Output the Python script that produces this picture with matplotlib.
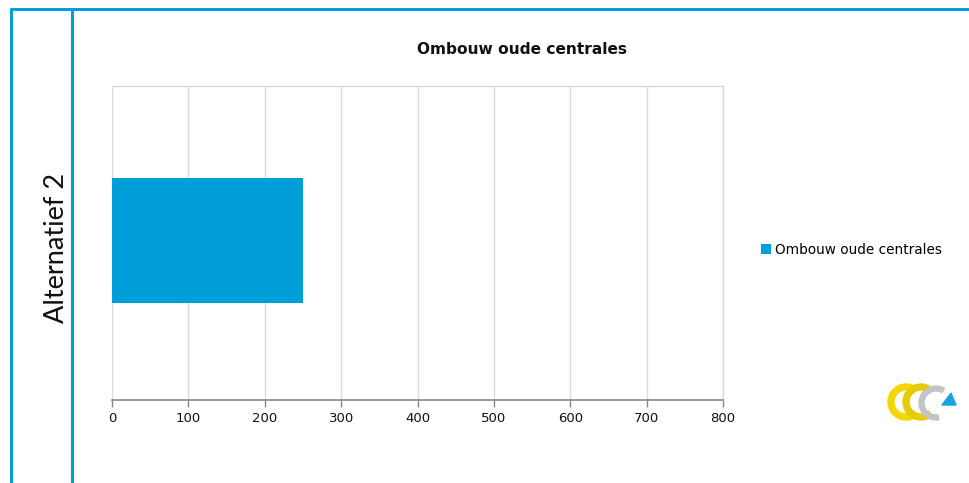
import matplotlib
matplotlib.use("Agg")
import matplotlib.pyplot as plt
from matplotlib.patches import Wedge, Polygon
from matplotlib.lines import Line2D

# Data
categories = ["Alternatief 2"]
series_name = "Ombouw oude centrales"
values = [250]
x_ticks = [0, 100, 200, 300, 400, 500, 600, 700, 800]

BLUE = "#009FDA"
W, H = 969, 483
SANS = "DejaVu Sans"

fig = plt.figure(figsize=(W / 100, H / 100), dpi=100)
fig.patch.set_facecolor("white")

# Page frame drawn in pixel coordinates
frame = fig.add_axes([0, 0, 1, 1])
frame.set_xlim(0, W)
frame.set_ylim(H, 0)
frame.axis("off")
for xs, ys in [([10, W], [8.5, 8.5]), ([11, 11], [8, H]), ([72.5, 72.5], [8, H])]:
    frame.add_line(Line2D(xs, ys, color=BLUE, lw=2.2, solid_capstyle="butt"))
frame.text(57, 248, categories[0], rotation=90, ha="center", va="center",
           fontsize=19.5, family="Lato", color="#111111")

# Logo: two yellow ribbons, a grey swoosh and a blue arrow tip
frame.add_patch(Wedge((906, 402), 18, 50, 310, width=6, color="#F2D700"))
frame.add_patch(Wedge((921, 402), 18, 50, 310, width=6, color="#E6CC00"))
frame.add_patch(Wedge((936, 403), 17, 80, 300, width=5, color="#C4C4C4"))
frame.add_patch(Polygon([[942, 405], [956, 405], [951, 393]], closed=True,
                        color="#1AA3E0"))

# Chart area
ax = fig.add_axes([112 / W, (H - 400) / H, 611 / W, 314 / H])
ax.barh(range(len(categories)), values, height=0.4, color=BLUE,
        label=series_name, zorder=3)
ax.set_xlim(x_ticks[0], x_ticks[-1])
ax.set_ylim(-0.508, 0.492)
ax.set_xticks(x_ticks)
ax.set_xticklabels([str(t) for t in x_ticks], fontsize=9.5, family=SANS,
                   color="#111111")
ax.set_yticks([])
ax.grid(axis="x", color="#D9D9D9", lw=1.0, zorder=0)
ax.spines["left"].set_visible(False)
for s in ["top", "right"]:
    ax.spines[s].set_color("#D9D9D9")
    ax.spines[s].set_linewidth(1.0)
ax.spines["bottom"].set_color("#868686")
ax.spines["bottom"].set_linewidth(1.2)
ax.tick_params(axis="x", direction="out", length=5, width=1.0,
               color="#868686", pad=4)

fig.text(522 / W, 1 - 50 / H, "Ombouw oude centrales", ha="center",
         va="center", fontsize=11.1, fontweight="bold", family=SANS,
         color="#111111")

fig.legend(loc="center left", bbox_to_anchor=(749 / W, 1 - 250 / H),
           frameon=False, handlelength=0.7, handleheight=0.7,
           handletextpad=0.3, prop={"size": 9.8, "family": SANS})

fig.savefig("out.png", dpi=100, facecolor="white")
